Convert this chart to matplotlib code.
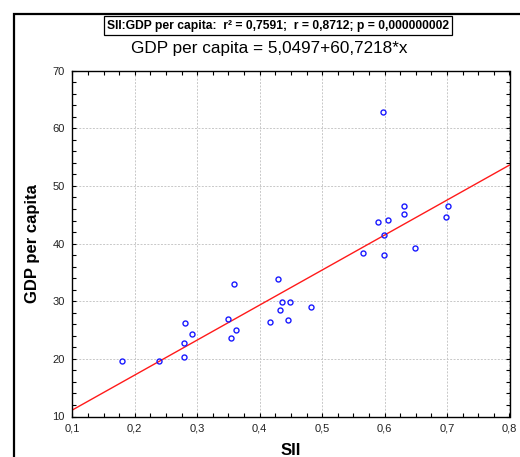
import matplotlib
matplotlib.use("Agg")
import matplotlib.pyplot as plt
import numpy as np
from matplotlib.ticker import MultipleLocator, FuncFormatter
from matplotlib.patches import Rectangle

plt.rcParams['font.family'] = ['Liberation Sans', 'DejaVu Sans']

# Data
sii = [0.180, 0.239, 0.279, 0.279, 0.281, 0.292, 0.349, 0.354, 0.359, 0.362,
       0.417, 0.430, 0.432, 0.435, 0.446, 0.448, 0.482, 0.565, 0.599, 0.597,
       0.701, 0.698, 0.631, 0.631, 0.605, 0.589, 0.599, 0.649]
gdp = [19.6, 19.6, 20.4, 22.75, 26.15, 24.4, 27.0, 23.55, 33.0, 25.0,
       26.45, 33.85, 28.4, 29.85, 26.75, 29.85, 29.0, 38.35, 38.05, 62.8,
       46.6, 44.6, 46.6, 45.15, 44.05, 43.75, 41.45, 39.2]
intercept = 5.0497
slope = 60.7218

title_text = "SII:GDP per capita:  r\u00b2 = 0,7591;  r = 0,8712; p = 0,000000002"
eq_text = "GDP per capita = 5,0497+60,7218*x"
x_label = "SII"
y_label = "GDP per capita"

fig = plt.figure(figsize=(5.2, 4.57), dpi=100)
ax = fig.add_axes([72.3/520, 1-416.5/457, (509.5-72.3)/520, (416.5-70.7)/457])

ax.set_xlim(0.1, 0.8)
ax.set_ylim(10, 70)

xl = np.array([0.1, 0.8])
ax.plot(xl, intercept + slope*xl, color='#ff1a1a', lw=1.0, zorder=2)
ax.plot(sii, gdp, linestyle='none', marker='o', ms=3.6, mfc='none',
        mec='#1a1aff', mew=1.0, zorder=3)

ax.xaxis.set_major_locator(MultipleLocator(0.1))
ax.xaxis.set_minor_locator(MultipleLocator(0.025))
ax.yaxis.set_major_locator(MultipleLocator(10))
ax.yaxis.set_minor_locator(MultipleLocator(2))
ax.xaxis.set_major_formatter(FuncFormatter(lambda v, p: f"{v:.1f}".replace('.', ',')))
ax.yaxis.set_major_formatter(FuncFormatter(lambda v, p: f"{v:.0f}"))
ax.tick_params(which='both', direction='in', top=True, right=True,
               length=3, width=0.8, colors='black', labelsize=8)
ax.tick_params(axis='x', which='major', pad=5)
ax.tick_params(axis='y', which='major', pad=5.5)
ax.tick_params(axis='both', which='major', labelcolor='#222222')
ax.grid(True, which='major', color='#c8c8c8', linestyle=(0, (2, 1.5)), lw=0.7)
for s in ax.spines.values():
    s.set_linewidth(1.0)
    s.set_color('black')

ax.set_xlabel(x_label, fontsize=12, fontweight='bold', labelpad=7)
ax.set_ylabel(y_label, fontsize=12, fontweight='bold', labelpad=9)

fig.text(278.4/520, 1-25.5/457, title_text, ha='center', va='center',
         fontsize=8.7, fontweight='bold',
         bbox=dict(boxstyle='square,pad=0.25', fc='white', ec='black', lw=0.9))
fig.text(269/520, 1-48.5/457, eq_text, ha='center', va='center', fontsize=12.3)

fig.patches.append(Rectangle((14/520, -0.1), 1.2, 0.1+1-14/457,
                             transform=fig.transFigure, fill=False,
                             ec='black', lw=1.6, clip_on=False))

fig.savefig("out.png", dpi=100)
